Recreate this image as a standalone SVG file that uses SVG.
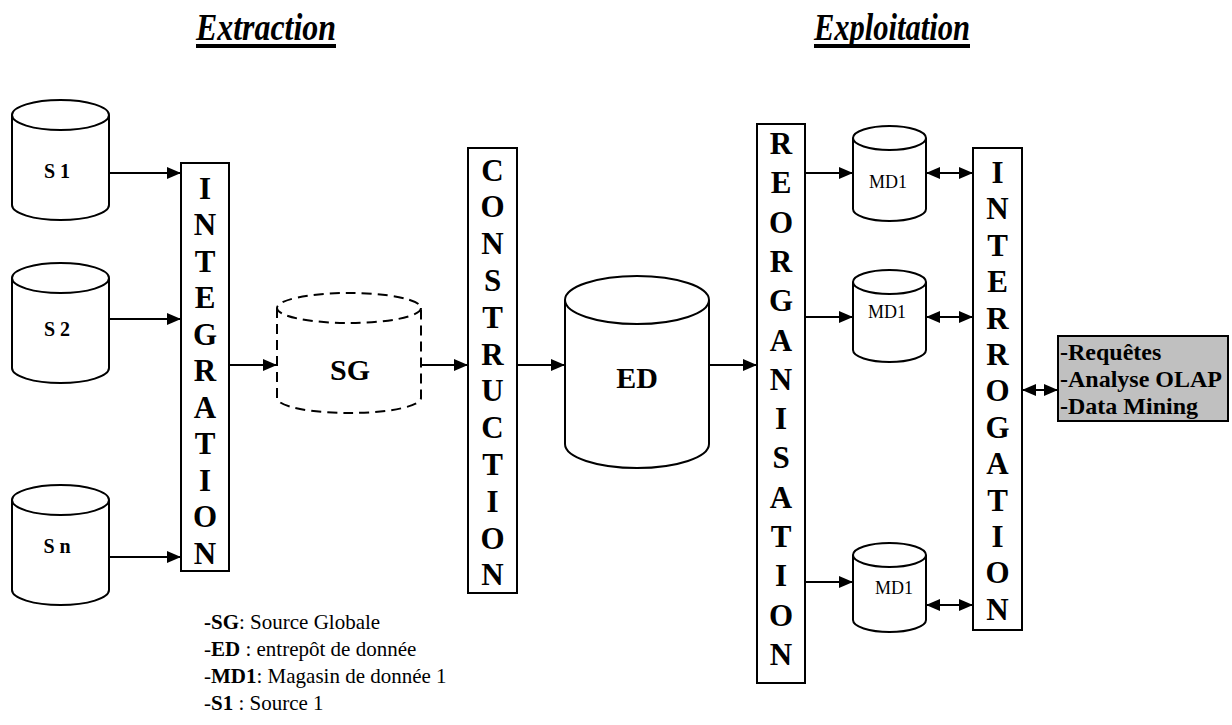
<svg xmlns="http://www.w3.org/2000/svg" width="1232" height="725" viewBox="0 0 1232 725">
  <style>
    .ln { stroke: #000; stroke-width: 2; fill: none; }
    .shape { stroke: #000; stroke-width: 2; fill: #fff; }
    .dash { stroke: #000; stroke-width: 2; fill: #fff; stroke-dasharray: 10 6; }
    .col { font-family: "Liberation Serif", "Times New Roman", serif; font-weight: bold; font-size: 31px; text-anchor: middle; fill: #000; }
    .lbl { font-family: "Liberation Serif", "Times New Roman", serif; font-weight: bold; font-size: 20px; text-anchor: middle; fill: #000; }
    .big { font-family: "Liberation Serif", "Times New Roman", serif; font-weight: bold; font-size: 30px; text-anchor: middle; fill: #000; }
    .md { font-family: "Liberation Serif", "Times New Roman", serif; font-size: 18px; text-anchor: middle; fill: #000; }
    .title { font-family: "Liberation Serif", "Times New Roman", serif; font-weight: bold; font-style: italic; font-size: 37px; fill: #000; }
    .out { font-family: "Liberation Serif", "Times New Roman", serif; font-weight: bold; font-size: 24px; fill: #000; }
    .leg { font-family: "Liberation Serif", "Times New Roman", serif; font-size: 21px; fill: #000; }
    .b { font-weight: bold; }
  </style>
  <defs>
    <marker id="arrow" viewBox="0 0 14 12" markerWidth="14" markerHeight="12" refX="14" refY="6" markerUnits="userSpaceOnUse" orient="auto-start-reverse">
      <path d="M0,0 L14,6 L0,12 z" fill="#000"/>
    </marker>
  </defs>

  <!-- section titles -->
  <g id="titles">
    <text class="title" x="196" y="40" textLength="140" lengthAdjust="spacingAndGlyphs">Extraction</text>
    <rect x="196" y="44" width="140" height="4" fill="#000"/>
    <text class="title" x="814" y="40" textLength="156" lengthAdjust="spacingAndGlyphs">Exploitation</text>
    <rect x="814" y="44" width="156" height="4" fill="#000"/>
  </g>

  <!-- sources -->
  <g id="s1">
    <path class="shape" d="M12,115 V205 A48.5,15 0 0 0 109,205 V115"/>
    <ellipse class="shape" cx="60.5" cy="115" rx="48.5" ry="15"/>
    <text class="lbl" x="57" y="178" xml:space="preserve">S 1</text>
  </g>
  <g id="s2">
    <path class="shape" d="M12,278 V368 A48.5,15 0 0 0 109,368 V278"/>
    <ellipse class="shape" cx="60.5" cy="278" rx="48.5" ry="15"/>
    <text class="lbl" x="57" y="336" xml:space="preserve">S 2</text>
  </g>
  <g id="sn">
    <path class="shape" d="M12,500 V590 A48.5,15 0 0 0 109,590 V500"/>
    <ellipse class="shape" cx="60.5" cy="500" rx="48.5" ry="15"/>
    <text class="lbl" x="57" y="553" xml:space="preserve">S n</text>
  </g>

  <!-- integration column -->
  <g id="integration">
    <rect class="shape" x="181" y="163" width="48" height="408"/>
    <text class="col" x="205" y="198.5">I</text>
    <text class="col" x="205" y="235">N</text>
    <text class="col" x="205" y="271.5">T</text>
    <text class="col" x="205" y="308">E</text>
    <text class="col" x="205" y="344.5">G</text>
    <text class="col" x="205" y="381">R</text>
    <text class="col" x="205" y="417.5">A</text>
    <text class="col" x="205" y="454">T</text>
    <text class="col" x="205" y="490.5">I</text>
    <text class="col" x="205" y="527">O</text>
    <text class="col" x="205" y="563.5">N</text>
  </g>

  <!-- global source -->
  <g id="sg">
    <path class="dash" d="M277,308 V398 A72,15 0 0 0 421,398 V308"/>
    <ellipse class="dash" cx="349" cy="308" rx="72" ry="15"/>
    <text class="big" x="350" y="380">SG</text>
  </g>

  <!-- construction column -->
  <g id="construction">
    <rect class="shape" x="468" y="148" width="49" height="445"/>
    <text class="col" x="492.5" y="180.5">C</text>
    <text class="col" x="492.5" y="217.3">O</text>
    <text class="col" x="492.5" y="254.1">N</text>
    <text class="col" x="492.5" y="290.9">S</text>
    <text class="col" x="492.5" y="327.7">T</text>
    <text class="col" x="492.5" y="364.5">R</text>
    <text class="col" x="492.5" y="401.3">U</text>
    <text class="col" x="492.5" y="438.1">C</text>
    <text class="col" x="492.5" y="474.9">T</text>
    <text class="col" x="492.5" y="511.7">I</text>
    <text class="col" x="492.5" y="548.5">O</text>
    <text class="col" x="492.5" y="585.3">N</text>
  </g>

  <!-- data warehouse -->
  <g id="ed">
    <path class="shape" d="M565,300 V444 A72,24 0 0 0 709,444 V300"/>
    <ellipse class="shape" cx="637" cy="300" rx="72" ry="24"/>
    <text class="big" x="637" y="388">ED</text>
  </g>

  <!-- reorganisation column -->
  <g id="reorganisation">
    <rect class="shape" x="757" y="124" width="48" height="559"/>
    <text class="col" x="781" y="154">R</text>
    <text class="col" x="781" y="193.3">E</text>
    <text class="col" x="781" y="232.6">O</text>
    <text class="col" x="781" y="271.9">R</text>
    <text class="col" x="781" y="311.2">G</text>
    <text class="col" x="781" y="350.5">A</text>
    <text class="col" x="781" y="389.8">N</text>
    <text class="col" x="781" y="429.1">I</text>
    <text class="col" x="781" y="468.4">S</text>
    <text class="col" x="781" y="507.7">A</text>
    <text class="col" x="781" y="547">T</text>
    <text class="col" x="781" y="586.3">I</text>
    <text class="col" x="781" y="625.6">O</text>
    <text class="col" x="781" y="664.9">N</text>
  </g>

  <!-- data marts -->
  <g id="md1-a">
    <path class="shape" d="M853,138 V209 A36.5,12 0 0 0 926,209 V138"/>
    <ellipse class="shape" cx="889.5" cy="138" rx="36.5" ry="12"/>
    <text class="md" x="888" y="188">MD1</text>
  </g>
  <g id="md1-b">
    <path class="shape" d="M853,282 V350 A36.5,12 0 0 0 926,350 V282"/>
    <ellipse class="shape" cx="889.5" cy="282" rx="36.5" ry="12"/>
    <text class="md" x="887" y="318">MD1</text>
  </g>
  <g id="md1-c">
    <path class="shape" d="M853,555 V620 A36.5,12 0 0 0 926,620 V555"/>
    <ellipse class="shape" cx="889.5" cy="555" rx="36.5" ry="12"/>
    <text class="md" x="894" y="594">MD1</text>
  </g>

  <!-- interrogation column -->
  <g id="interrogation">
    <rect class="shape" x="973" y="148" width="49" height="482"/>
    <text class="col" x="997.5" y="183">I</text>
    <text class="col" x="997.5" y="219.4">N</text>
    <text class="col" x="997.5" y="255.8">T</text>
    <text class="col" x="997.5" y="292.2">E</text>
    <text class="col" x="997.5" y="328.6">R</text>
    <text class="col" x="997.5" y="365">R</text>
    <text class="col" x="997.5" y="401.4">O</text>
    <text class="col" x="997.5" y="437.8">G</text>
    <text class="col" x="997.5" y="474.2">A</text>
    <text class="col" x="997.5" y="510.6">T</text>
    <text class="col" x="997.5" y="547">I</text>
    <text class="col" x="997.5" y="583.4">O</text>
    <text class="col" x="997.5" y="619.8">N</text>
  </g>

  <!-- uses -->
  <g id="uses">
    <rect x="1058" y="336" width="170" height="85" fill="#c0c0c0" stroke="#000" stroke-width="2"/>
    <text class="out" x="1060" y="360">-Requêtes</text>
    <text class="out" x="1060" y="387">-Analyse OLAP</text>
    <text class="out" x="1060" y="414">-Data Mining</text>
  </g>

  <!-- connectors -->
  <g id="connectors" class="ln">
    <line x1="109" y1="173" x2="181" y2="173" marker-end="url(#arrow)"/>
    <line x1="109" y1="319" x2="181" y2="319" marker-end="url(#arrow)"/>
    <line x1="109" y1="557" x2="181" y2="557" marker-end="url(#arrow)"/>
    <line x1="229" y1="365" x2="277" y2="365" marker-end="url(#arrow)"/>
    <line x1="421" y1="365" x2="468" y2="365" marker-end="url(#arrow)"/>
    <line x1="517" y1="365" x2="565" y2="365" marker-end="url(#arrow)"/>
    <line x1="709" y1="365" x2="757" y2="365" marker-end="url(#arrow)"/>
    <line x1="805" y1="173" x2="853" y2="173" marker-end="url(#arrow)"/>
    <line x1="805" y1="317" x2="853" y2="317" marker-end="url(#arrow)"/>
    <line x1="805" y1="582" x2="853" y2="582" marker-end="url(#arrow)"/>
    <line x1="926" y1="173" x2="973" y2="173" marker-start="url(#arrow)" marker-end="url(#arrow)"/>
    <line x1="926" y1="317" x2="973" y2="317" marker-start="url(#arrow)" marker-end="url(#arrow)"/>
    <line x1="926" y1="605" x2="973" y2="605" marker-start="url(#arrow)" marker-end="url(#arrow)"/>
    <line x1="1022" y1="390" x2="1058" y2="390" marker-start="url(#arrow)" marker-end="url(#arrow)"/>
  </g>

  <!-- legend -->
  <g id="legend">
    <text class="leg" x="204" y="629"><tspan class="b">-SG</tspan>: Source Globale</text>
    <text class="leg" x="204" y="656">-<tspan class="b">ED</tspan> : entrepôt de donnée</text>
    <text class="leg" x="204" y="683">-<tspan class="b">MD1</tspan>: Magasin de donnée 1</text>
    <text class="leg" x="204" y="710">-<tspan class="b">S1</tspan> : Source 1</text>
  </g>
</svg>
